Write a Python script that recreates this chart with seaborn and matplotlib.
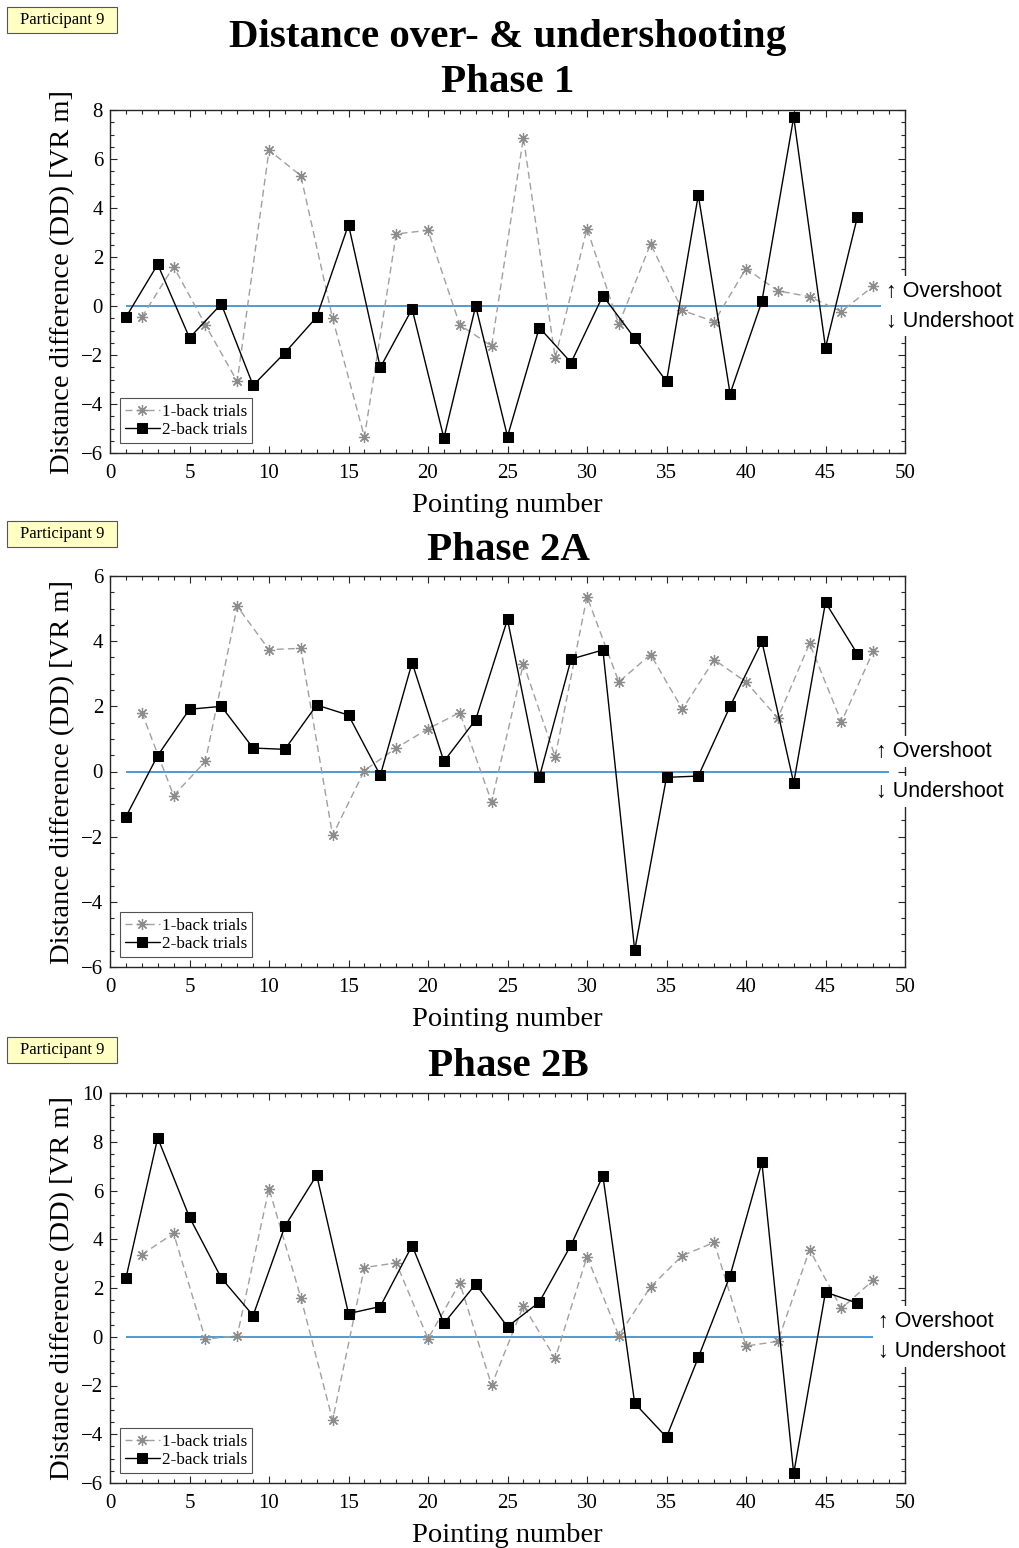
import matplotlib
matplotlib.use("Agg")
import matplotlib.pyplot as plt
from matplotlib.patches import Rectangle
from matplotlib.ticker import MultipleLocator
import pandas as pd
import seaborn as sns

# Pointing numbers: 1-back trials on even pointings, 2-back trials on odd pointings
one_back_x = list(range(2, 49, 2))
two_back_x = list(range(1, 48, 2))

# Distance difference (DD) in VR metres
phase1_one_back = [-0.46, 1.61, -0.77, -3.08, 6.36, 5.32, -0.50, -5.35, 2.94, 3.09,
                   -0.77, -1.64, 6.87, -2.12, 3.16, -0.75, 2.54, -0.18, -0.64, 1.53,
                   0.62, 0.38, -0.23, 0.81]
phase1_two_back = [-0.46, 1.70, -1.30, 0.08, -3.24, -1.91, -0.45, 3.32, -2.51, -0.12,
                   -5.39, 0.00, -5.33, -0.88, -2.31, 0.42, -1.32, -3.08, 4.53, -3.58,
                   0.19, 7.71, -1.70, 3.62]

phase2a_one_back = [1.81, -0.74, 0.31, 5.07, 3.74, 3.78, -1.96, 0.03, 0.72, 1.31,
                    1.81, -0.93, 3.31, 0.45, 5.37, 2.75, 3.59, 1.91, 3.43, 2.75,
                    1.64, 3.93, 1.52, 3.69]
phase2a_two_back = [-1.39, 0.49, 1.91, 2.00, 0.72, 0.68, 2.04, 1.73, -0.12, 3.34,
                    0.31, 1.59, 4.67, -0.18, 3.45, 3.73, -5.49, -0.18, -0.14, 2.00,
                    3.99, -0.35, 5.19, 3.61]

phase2b_one_back = [3.37, 4.24, -0.10, 0.04, 6.08, 1.61, -3.42, 2.84, 3.03, -0.08,
                    2.21, -1.99, 1.27, -0.89, 3.29, 0.05, 2.05, 3.33, 3.87, -0.38,
                    -0.19, 3.57, 1.16, 2.32]
phase2b_two_back = [2.40, 8.16, 4.90, 2.41, 0.87, 4.53, 6.63, 0.95, 1.24, 3.74,
                    0.55, 2.16, 0.41, 1.42, 3.77, 6.60, -2.73, -4.12, -0.85, 2.51,
                    7.15, -5.61, 1.83, 1.38]

phase_titles = ["Phase 1", "Phase 2A", "Phase 2B"]
y_limits = [(-6, 8), (-6, 6), (-6, 10)]
series_labels = ["1-back trials", "2-back trials"]
participant_label = "Participant 9"
main_title = "Distance over- & undershooting"

sns.set_style("ticks")
plt.rcParams['font.family'] = ['Liberation Serif', 'DejaVu Serif']
plt.rcParams['text.color'] = 'black'
plt.rcParams['axes.labelcolor'] = 'black'
plt.rcParams['axes.edgecolor'] = '#262626'
plt.rcParams['xtick.color'] = '#262626'
plt.rcParams['ytick.color'] = '#262626'
plt.rcParams['xtick.labelcolor'] = 'black'
plt.rcParams['ytick.labelcolor'] = 'black'

W, H = 1019, 1548
fig = plt.figure(figsize=(W / 100, H / 100), dpi=100)

# axes boxes in pixels: (left, top, right, bottom)
boxes = [(110, 110, 905, 453), (110, 576, 905, 967), (110, 1093, 905, 1483)]
title_y = [82, 551, 1067]
badge_y = [7, 521, 1037]
label_offsets = [15, 20, 15]
label_x = [48.8, 48.2, 48.3]

panels = [
    (phase1_one_back, phase1_two_back),
    (phase2a_one_back, phase2a_two_back),
    (phase2b_one_back, phase2b_two_back),
]

# MATLAB-like asterisk: eight spokes
asterisk = (8, 2, 0)

fig.text(508 / W, 1 - 37 / H, main_title, ha='center', va='center',
         fontsize=29.5, fontweight='bold')

for i, (one_back, two_back) in enumerate(panels):
    l, t, r, b = boxes[i]
    ax = fig.add_axes([l / W, 1 - b / H, (r - l) / W, (b - t) / H])

    df1 = pd.DataFrame({"pointing": one_back_x, "dd": one_back})
    df2 = pd.DataFrame({"pointing": two_back_x, "dd": two_back})

    ax.hlines(0, 1, 49, color='#1f80cc', lw=1.1, zorder=1.5)
    sns.lineplot(data=df1, x="pointing", y="dd", ax=ax, color='#a0a0a0',
                 linestyle=(0, (5, 3)), lw=1.0, marker=asterisk, markersize=8,
                 markeredgewidth=0.9, markerfacecolor='#8c8c8c',
                 markeredgecolor='#8c8c8c', label=series_labels[0], zorder=3)
    sns.lineplot(data=df2, x="pointing", y="dd", ax=ax, color='black',
                 lw=1.0, marker='s', markersize=6.5, markerfacecolor='black',
                 markeredgecolor='black', label=series_labels[1], zorder=3)

    ax.set_xlim(0, 50)
    ax.set_ylim(*y_limits[i])
    ax.xaxis.set_major_locator(MultipleLocator(5))
    ax.xaxis.set_minor_locator(MultipleLocator(1))
    ax.yaxis.set_major_locator(MultipleLocator(2))
    ax.yaxis.set_minor_locator(MultipleLocator(0.5))
    ax.tick_params(which='both', direction='in', top=True, right=True,
                   labelsize=15, width=0.8)
    ax.tick_params(which='major', length=5)
    ax.tick_params(which='minor', length=3)
    ax.tick_params(axis='x', pad=8)
    ax.tick_params(axis='y', pad=5)
    for s in ax.spines.values():
        s.set_linewidth(1.0)

    ax.set_xlabel("Pointing number", fontsize=20.5, labelpad=7)
    ax.set_ylabel("Distance difference (DD) [VR m]", fontsize=20.5, labelpad=4)

    leg = ax.legend(loc='lower left', fontsize=12.3, frameon=True, fancybox=False,
                    handlelength=2.0, handletextpad=0.15, borderpad=0.3,
                    labelspacing=0.12, borderaxespad=0.6)
    leg.get_frame().set_edgecolor('#262626')
    leg.get_frame().set_linewidth(0.8)

    for txt, sign in (("\u2191 Overshoot", 1), ("\u2193 Undershoot", -1)):
        ax.annotate(txt, xy=(label_x[i], 0), xytext=(0, sign * label_offsets[i]),
                    textcoords='offset pixels', ha='left', va='center',
                    fontsize=15.5, family=['Liberation Sans', 'DejaVu Sans'],
                    annotation_clip=False, zorder=5,
                    bbox=dict(facecolor='white', edgecolor='none', pad=3.5))

    fig.text(508 / W, 1 - title_y[i] / H, phase_titles[i], ha='center', va='center',
             fontsize=29.5, fontweight='bold')

    # participant badge
    fig.patches.append(Rectangle((7 / W, 1 - (badge_y[i] + 26) / H), 110 / W, 26 / H,
                                 transform=fig.transFigure, facecolor='#ffffc4',
                                 edgecolor='#555555', lw=0.8))
    fig.text(62 / W, 1 - (badge_y[i] + 13) / H, participant_label, ha='center',
             va='center', fontsize=12)

fig.savefig("out.png", dpi=100)
